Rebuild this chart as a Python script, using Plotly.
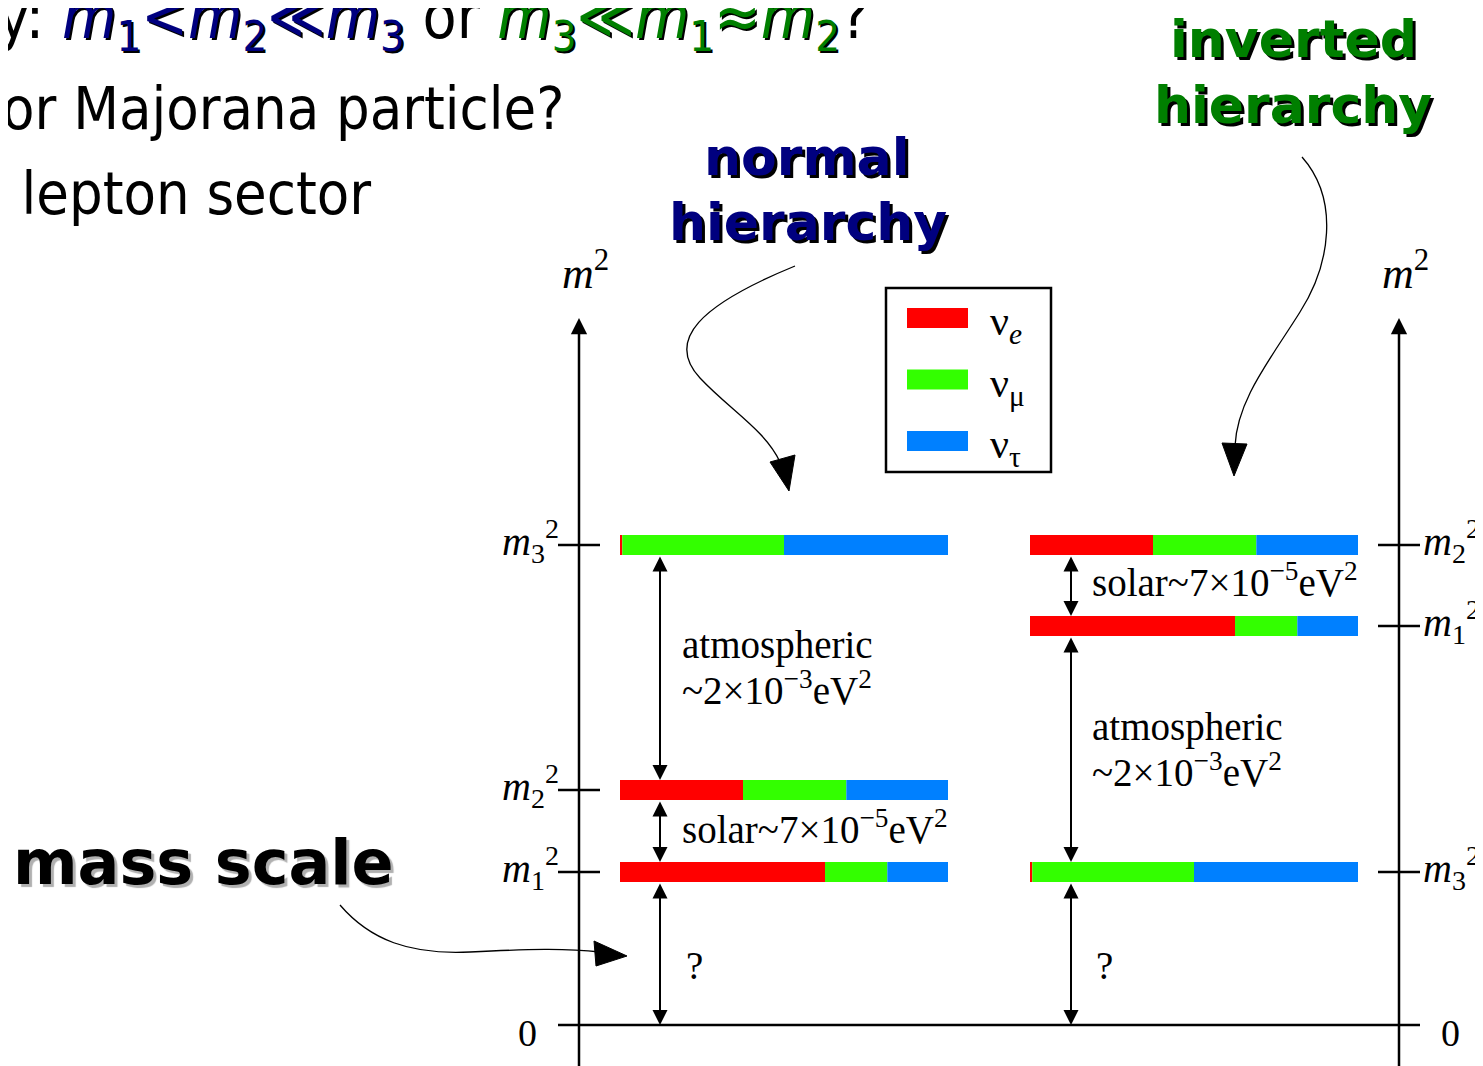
import plotly.graph_objects as go

# ---------------- data ----------------
FLAVORS = ["ν<sub><i>e</i></sub>", "ν<sub>μ</sub>", "ν<sub>τ</sub>"]
FLAVOR_COLORS = ["#ff0000", "#33ff00", "#0080ff"]
MASS_STATES = ["m1", "m2", "m3"]
# schematic squared-mass levels (display units above zero)
NH_LEVELS = [153, 235, 480]   # m1^2, m2^2, m3^2  (normal hierarchy)
IH_LEVELS = [399, 480, 153]   # m1^2, m2^2, m3^2  (inverted hierarchy)
# flavour content of each mass state (m1, m2, m3)
FRAC_E = [0.625, 0.375, 0.007]
FRAC_MU = [0.19, 0.315, 0.493]
FRAC_TAU = [0.185, 0.31, 0.50]
FRACS = [FRAC_E, FRAC_MU, FRAC_TAU]
SPLIT_LABELS = {"atm": ["atmospheric", "~2×10<sup>−3</sup>eV<sup>2</sup>"],
                "sol": "solar~7×10<sup>−5</sup>eV<sup>2</sup>",
                "unk": "?"}

# ---------------- layout helpers ----------------
W, H = 1483, 1066
OFF = 8            # page body margin
ZERO_PY = 1025
def Y(py):
    return ZERO_PY - py

BAR_LEN = 328
BAR_THICK = 20
NH_X0, IH_X0 = 620, 1030
AX_L, AX_R = 579, 1399
SERIF = "Liberation Serif, Times New Roman, serif"
SANS = "DejaVu Sans, sans-serif"
COND = "DejaVu Sans Condensed, DejaVu Sans, sans-serif"

fig = go.Figure()

# bars (one trace per flavour)
for fi, (name, col) in enumerate(zip(FLAVORS, FLAVOR_COLORS)):
    xs, ys, bases = [], [], []
    for levels, x0 in ((NH_LEVELS, NH_X0), (IH_LEVELS, IH_X0)):
        for si in range(3):
            cum = sum(FRACS[k][si] for k in range(fi))
            xs.append(FRACS[fi][si] * BAR_LEN)
            bases.append(x0 + cum * BAR_LEN)
            ys.append(levels[si])
    fig.add_trace(go.Bar(x=xs, y=ys, base=bases, orientation="h", width=BAR_THICK,
                         marker=dict(color=col, line=dict(width=0)), name=name,
                         showlegend=False, hoverinfo="skip"))

shapes = []
ann = []
LW = 2.5

# baseline
shapes.append(dict(type="line", x0=558, x1=1420, y0=0, y1=0, line=dict(color="black", width=LW)))
# axis lines with arrow heads
for ax in (AX_L, AX_R):
    ann.append(dict(x=ax, y=Y(318), ax=ax, ay=Y(1080), xref="x", yref="y", axref="x", ayref="y",
                    text="", showarrow=True, arrowhead=2, arrowsize=1.3, arrowwidth=LW,
                    arrowcolor="black", standoff=0))
    ann.append(dict(x=ax + 6, y=Y(270), xref="x", yref="y", showarrow=False,
                    text="<i>m</i><sup>2</sup>", font=dict(family=SERIF, size=44, color="black")))

lab = {"m1": "<i>m</i><sub>1</sub><sup>2</sup>", "m2": "<i>m</i><sub>2</sub><sup>2</sup>",
       "m3": "<i>m</i><sub>3</sub><sup>2</sup>"}
for si, st in enumerate(MASS_STATES):
    yl = NH_LEVELS[si]
    shapes.append(dict(type="line", x0=558, x1=600, y0=yl, y1=yl, line=dict(color="black", width=LW)))
    ann.append(dict(x=561, y=yl + 4, xref="x", yref="y", xanchor="right", yanchor="middle",
                    showarrow=False, text=lab[st], font=dict(family=SERIF, size=40, color="black")))
    yr = IH_LEVELS[si]
    shapes.append(dict(type="line", x0=1378, x1=1420, y0=yr, y1=yr, line=dict(color="black", width=LW)))
    ann.append(dict(x=1421, y=yr + 4, xref="x", yref="y", xanchor="left", yanchor="middle",
                    showarrow=False, text=lab[st], font=dict(family=SERIF, size=40, color="black")))

for zx in (527, 1450):
    ann.append(dict(x=zx, y=Y(1033), xref="x", yref="y", showarrow=False, text="0",
                    font=dict(family=SERIF, size=38, color="black")))

# double arrows between levels
def darrow(x, y_top, y_bot):
    ann.append(dict(x=x, y=y_bot, ax=x, ay=y_top, xref="x", yref="y", axref="x", ayref="y",
                    text="", showarrow=True, arrowhead=2, startarrowhead=2, arrowside="end+start",
                    arrowsize=1.5, startarrowsize=1.5, arrowwidth=2, arrowcolor="black",
                    standoff=0, startstandoff=0))

h = BAR_THICK / 2
nh = dict(zip(MASS_STATES, NH_LEVELS))
ih = dict(zip(MASS_STATES, IH_LEVELS))
darrow(660, nh["m3"] - h, nh["m2"] + h)
darrow(660, nh["m2"] - h, nh["m1"] + h)
darrow(660, nh["m1"] - h, 0)
darrow(1071, ih["m2"] - h, ih["m1"] + h)
darrow(1071, ih["m1"] - h, ih["m3"] + h)
darrow(1071, ih["m3"] - h, 0)

def txt(x, py, s, size=39, anchor="left"):
    ann.append(dict(x=x, y=Y(py), xref="x", yref="y", xanchor=anchor, yanchor="middle",
                    showarrow=False, text=s, font=dict(family=SERIF, size=size, color="black")))

txt(680, 645, SPLIT_LABELS["atm"][0])
txt(680, 688, SPLIT_LABELS["atm"][1])
txt(680, 827, SPLIT_LABELS["sol"])
txt(684, 965, SPLIT_LABELS["unk"])
txt(1090, 727, SPLIT_LABELS["atm"][0])
txt(1090, 770, SPLIT_LABELS["atm"][1])
txt(1090, 580, SPLIT_LABELS["sol"])
txt(1094, 965, SPLIT_LABELS["unk"])

# legend (manual)
shapes.append(dict(type="rect", x0=886, x1=1051, y0=Y(472), y1=Y(288),
                   line=dict(color="black", width=2.5), fillcolor="rgba(0,0,0,0)"))
for i, (name, col) in enumerate(zip(FLAVORS, FLAVOR_COLORS)):
    cy = 318 + i * 61.5
    shapes.append(dict(type="rect", x0=907, x1=968, y0=Y(cy + 10), y1=Y(cy - 10),
                       fillcolor=col, line=dict(width=0)))
    ann.append(dict(x=988, y=Y(cy + 6), xref="x", yref="y", xanchor="left", yanchor="middle",
                    showarrow=False, text=name, font=dict(family=SERIF, size=42, color="black")))

# curved pointer arrows
def path(points_cmd):
    out = []
    for tok in points_cmd:
        if isinstance(tok, str):
            out.append(tok)
        else:
            out.append(f"{tok[0]},{Y(tok[1])}")
    return " ".join(out)

curves = [
    ["M", (795, 266), "C", (700, 305), (665, 340), (700, 378), "C", (730, 410), (765, 430), (780, 462)],
    ["M", (1302, 157), "C", (1340, 200), (1330, 265), (1300, 312), "C", (1270, 360), (1237, 400), (1235, 446)],
    ["M", (340, 905), "C", (370, 940), (410, 955), (470, 952), "C", (530, 949), (565, 948), (600, 952)],
]
heads = [
    ["M", (789, 491), "L", (770, 462), "L", (795, 455), "Z"],
    ["M", (1234, 476), "L", (1222, 443), "L", (1247, 444), "Z"],
    ["M", (627, 956), "L", (594, 941), "L", (596, 966), "Z"],
]
for c in curves:
    shapes.append(dict(type="path", path=path(c), line=dict(color="black", width=1.3)))
for hd in heads:
    shapes.append(dict(type="path", path=path(hd), fillcolor="black", line=dict(color="black", width=1)))

# headings
def heading(x, py, s, color, size=52, shadow="3px 3px 0px #000", anchor="center", fam=None):
    ann.append(dict(x=x, y=Y(py), xref="x", yref="y", xanchor=anchor, yanchor="middle",
                    showarrow=False, text=s,
                    font=dict(family=fam or SANS, size=size, color=color, weight="bold", shadow=shadow)))

heading(807, 157, "normal", "#00007f")
heading(808, 222, "hierarchy", "#00007f")
heading(1293, 39, "inverted", "#007f00")
heading(1293, 105, "hierarchy", "#007f00")
heading(396, 862, "mass scale", "black", size=62, shadow="3px 3px 1px #b0b0b0", anchor="right")

# slide text (cut at left edge)
BLUE = "color:#00007f;text-shadow:2px 2px 0px #000"
GREEN = "color:#007f00;text-shadow:2px 2px 0px #000"
line1 = ("Neutrino mass hierarchy: "
         f'<span style="{BLUE}"><i>m</i><sub>1</sub>&lt;<i>m</i><sub>2</sub>≪<i>m</i><sub>3</sub></span>'
         " or "
         f'<span style="{GREEN}"><i>m</i><sub>3</sub>≪<i>m</i><sub>1</sub>≈<i>m</i><sub>2</sub></span>?')
def slide(xr, py, s, size=60):
    ann.append(dict(x=xr, y=Y(py), xref="x", yref="y", xanchor="right", yanchor="middle",
                    showarrow=False, text=s, font=dict(family=COND, size=size, color="black")))
slide(872, 20, line1, size=62)
slide(566, 108, "Dirac or Majorana particle?", size=59)
slide(373, 193, "CP violation in the lepton sector", size=59)

fig.update_layout(
    width=W, height=H, margin=dict(l=0, r=0, t=0, b=0),
    paper_bgcolor="white", plot_bgcolor="white",
    xaxis=dict(range=[OFF, W + OFF], visible=False, fixedrange=True),
    yaxis=dict(range=[Y(H + OFF), Y(OFF)], visible=False, fixedrange=True),
    shapes=shapes, annotations=ann, barmode="overlay", showlegend=False,
)
fig.write_html("out.html")
